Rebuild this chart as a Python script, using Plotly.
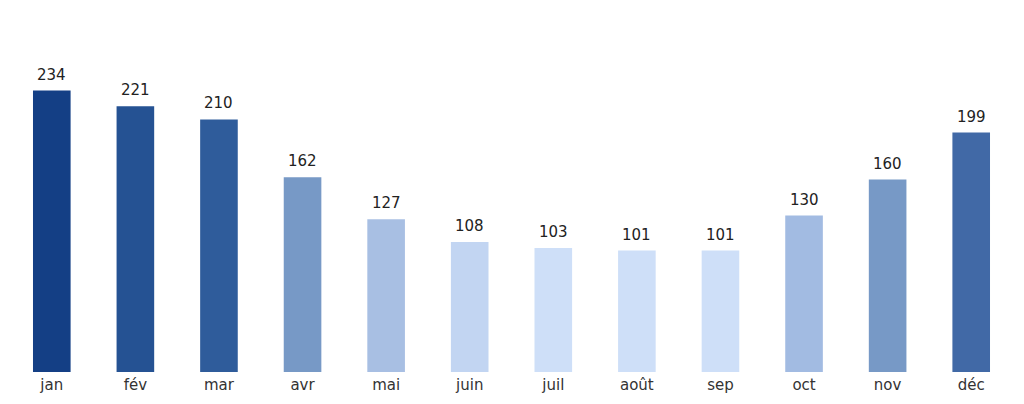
import plotly.graph_objects as go

# mois et valeurs
mois = ['jan', 'fév', 'mar', 'avr', 'mai', 'juin', 'juil', 'août', 'sep', 'oct', 'nov', 'déc']
valeurs = [234, 221, 210, 162, 127, 108, 103, 101, 101, 130, 160, 199]

# couleurs des barres (plus foncé = plus grand)
couleurs = ['#143f85', '#255293', '#2f5c9b', '#7799c6', '#a8bfe3', '#c2d5f2',
            '#cedff8', '#cedff8', '#cedff8', '#a2bbe2', '#7799c6', '#4169a6']

fig = go.Figure(go.Bar(
    x=mois,
    y=valeurs,
    marker=dict(color=couleurs, line=dict(width=0)),
    width=0.45,
))

# étiquettes de valeur au-dessus des barres
for m, v in zip(mois, valeurs):
    fig.add_annotation(x=m, y=v, text=str(v), showarrow=False,
                       yanchor='bottom', yshift=5,
                       font=dict(size=15, color='#222222'))

# la page a une marge de 8px autour de la figure
fig.update_layout(
    width=1008, height=388,
    paper_bgcolor='white', plot_bgcolor='white',
    margin=dict(l=2, r=3, t=32, b=21),
    font=dict(family='DejaVu Sans', size=15, color='#333333'),
    showlegend=False,
    xaxis=dict(showgrid=False, showline=False, ticks='', range=[-0.5, 11.5],
               ticklabelstandoff=2,
               tickfont=dict(size=15, color='#333333')),
    yaxis=dict(visible=False, range=[0, 276]),
)

fig.write_html("out.html")
